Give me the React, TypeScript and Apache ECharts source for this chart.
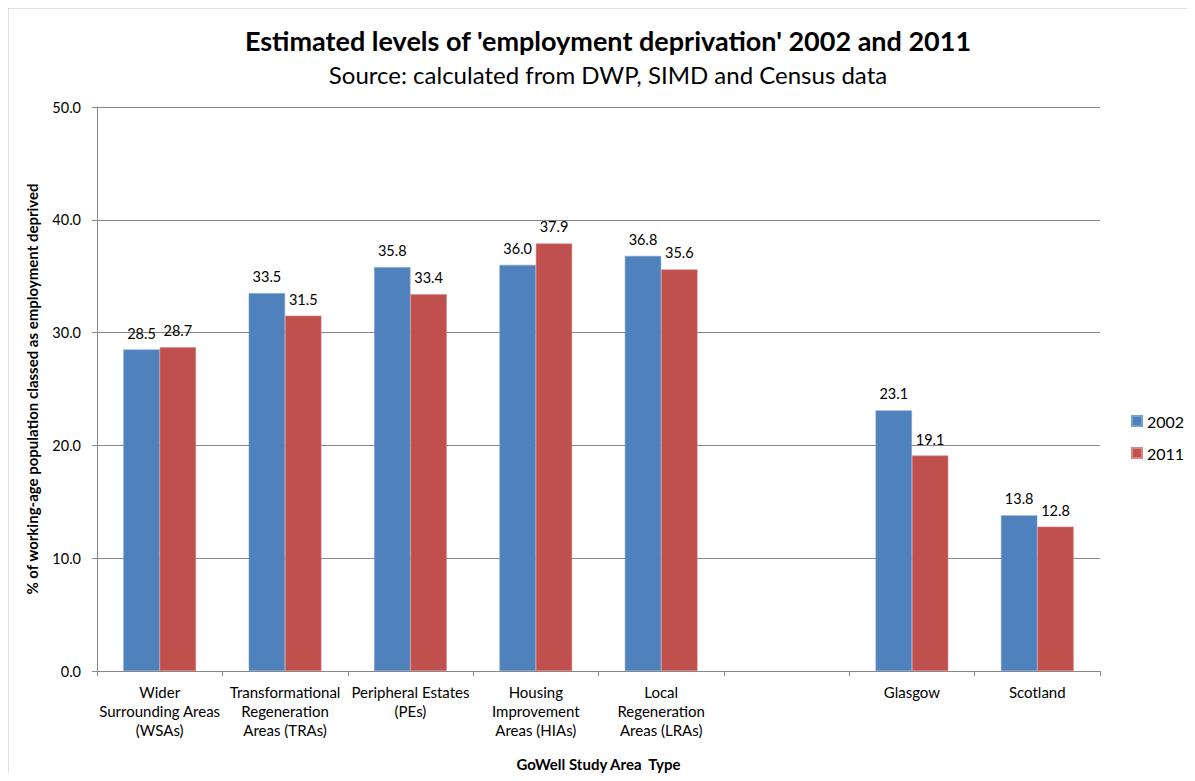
import React, { useEffect, useRef } from "react";
import * as echarts from "echarts";

const categories = [
  "Wider\nSurrounding Areas\n(WSAs)",
  "Transformational\nRegeneration\nAreas (TRAs)",
  "Peripheral Estates\n(PEs)",
  "Housing\nImprovement\nAreas (HIAs)",
  "Local\nRegeneration\nAreas (LRAs)",
  "",
  "Glasgow",
  "Scotland",
];
const values2002 = [28.5, 33.5, 35.8, 36.0, 36.8, null, 23.1, 13.8];
const values2011 = [28.7, 31.5, 33.4, 37.9, 35.6, null, 19.1, 12.8];
const seriesNames = ["2002", "2011"];

const FONT = "Lato, 'Open Sans', sans-serif";

export default function App() {
  const ref = useRef<HTMLDivElement>(null);
  useEffect(() => {
    if (!ref.current) return;
    const chart = echarts.init(ref.current, null, { renderer: "svg" });
    const label = {
      show: true,
      position: "top",
      distance: 9,
      color: "#000",
      fontSize: 14.5,
      fontFamily: FONT,
      formatter: (p: any) => (p.value == null ? "" : Number(p.value).toFixed(1)),
    };
    chart.setOption({
      animation: false,
      backgroundColor: "#fff",
      textStyle: { fontFamily: FONT },
      title: [
        {
          text: "Estimated levels of 'employment deprivation' 2002 and 2011",
          left: 603,
          textAlign: "center",
          top: 22,
          textStyle: { fontSize: 27, fontWeight: "bold", color: "#000", fontFamily: FONT },
        },
        {
          text: "Source: calculated from DWP, SIMD and Census data",
          left: 603,
          textAlign: "center",
          top: 57,
          textStyle: { fontSize: 24, fontWeight: "normal", color: "#000", fontFamily: FONT },
        },
      ],
      graphic: {
        elements: [
          {
            type: "polyline",
            z: 100,
            shape: { points: [[7.5, 781], [7.5, 7.5], [1195, 7.5]] },
            style: { stroke: "#8c8c8c", lineWidth: 1.5, fill: null },
            silent: true,
          },
        ],
      },
      legend: {
        orient: "vertical",
        left: 1126,
        top: 408,
        itemWidth: 10,
        itemHeight: 10,
        itemGap: 16,
        icon: "rect",
        textStyle: { fontSize: 16, color: "#000", fontFamily: FONT },
        data: seriesNames,
      },
      grid: { left: 97, right: 95, top: 107, bottom: 110, containLabel: false },
      xAxis: {
        type: "category",
        data: categories,
        name: "GoWell Study Area  Type",
        nameLocation: "middle",
        nameGap: 85,
        nameTextStyle: { fontSize: 15, fontWeight: "bold", color: "#000", fontFamily: FONT },
        axisLine: { lineStyle: { color: "#868686" } },
        axisTick: { show: true, alignWithLabel: false, length: 5, lineStyle: { color: "#868686" } },
        axisLabel: {
          interval: 0,
          fontSize: 15,
          color: "#000",
          lineHeight: 19,
          margin: 11,
          fontFamily: FONT,
        },
      },
      yAxis: {
        type: "value",
        min: 0,
        max: 50,
        interval: 10,
        name: "% of working-age population classed as employment deprived",
        nameLocation: "middle",
        nameGap: 58,
        nameRotate: 90,
        nameTextStyle: { fontSize: 15, fontWeight: "bold", color: "#000", fontFamily: FONT },
        axisLine: { show: true, lineStyle: { color: "#868686" } },
        axisTick: { show: true, length: 5, lineStyle: { color: "#868686" } },
        splitLine: { lineStyle: { color: "#868686" } },
        axisLabel: {
          fontSize: 14.5,
          color: "#000",
          margin: 16,
          fontFamily: FONT,
          formatter: (v: number) => v.toFixed(1),
        },
      },
      series: [
        {
          name: seriesNames[0],
          type: "bar",
          data: values2002,
          barGap: "0%",
          barCategoryGap: "42%",
          itemStyle: { color: "#4F81BD", borderColor: "#7aa0d0", borderWidth: 0.6 },
          label,
        },
        {
          name: seriesNames[1],
          type: "bar",
          data: values2011,
          barGap: "0%",
          barCategoryGap: "42%",
          itemStyle: { color: "#C0504D", borderColor: "#d98583", borderWidth: 0.6 },
          label,
        },
      ],
    });
    return () => chart.dispose();
  }, []);
  return (
    <div style={{ position: "relative", width: 1195, height: 781, margin: -8, overflow: "hidden", background: "#fff" }}>
      <div ref={ref} style={{ position: "absolute", left: 0, top: 0, width: 1195, height: 781 }} />
    </div>
  );
}
